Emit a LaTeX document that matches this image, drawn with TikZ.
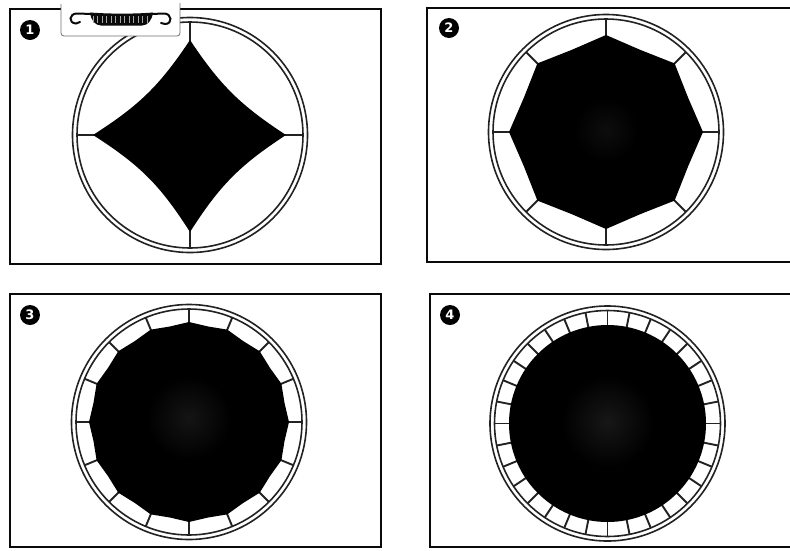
\documentclass[tikz,border=0pt]{standalone}
\usepackage{fontspec}
\setmainfont{DejaVu Sans}
\usetikzlibrary{calc}
\definecolor{ink}{HTML}{0A0A0A}
\definecolor{ringc}{HTML}{222222}
\definecolor{line}{HTML}{6F6F6F}
\tikzset{
  frame/.style={draw=ink, line width=2.3pt},
  ring/.style={draw=ringc, line width=1.6pt},
  spoke/.style={draw=ringc, line width=1.9pt},
  blob/.style={fill=black},
  badge/.style={
    circle, fill=black, text=white, minimum size=20pt, inner sep=0pt,
    font=\fontsize{13}{13}\selectfont\bfseries
  },
  tag/.style={draw=line, line width=0.8pt, rounded corners=3pt}
}
\begin{document}
\begin{tikzpicture}[x=1pt,y=-1pt]
        \useasboundingbox (0,0) rectangle (790,550);
        \coordinate (c1) at (190,135);
        \coordinate (c2) at (606,132);
        \coordinate (c3) at (189,422);
        \coordinate (c4) at (607.5,423.5);
        \draw[frame] (10,9) rectangle (381,264);
        \draw[frame] (790,8) -- (427,8) -- (427,262) -- (790,262);
        \draw[frame] (10,294) rectangle (381,547);
        \draw[frame] (790,294) -- (430,294) -- (430,547) -- (790,547);
        \foreach \c in {c1,c2,c3,c4} {
          \draw[ring] (\c) circle (117.5);
          \draw[ring] (\c) circle (113);
        }
        \foreach \a in {0,90,180,270}
          \draw[spoke] ($(c1)+(\a:113)$) -- ($(c1)+(\a:90)$);
        \foreach \a in {0,45,...,315}
          \draw[spoke] ($(c2)+(\a:113)$) -- ($(c2)+(\a:90)$);
        \foreach \a in {0,22.5,...,337.5}
          \draw[spoke] ($(c3)+(\a:113)$) -- ($(c3)+(\a:90)$);
        \foreach \a in {0,11.25,...,348.75}
          \draw[spoke] ($(c4)+(\a:113)$) -- ($(c4)+(\a:90)$);
        \fill[blob,shift={(c1)}] (0,-95) .. controls (30,-50) and (50,-30) .. (96,0)
          .. controls (50,30) and (30,50) .. (0,97)
          .. controls (-30,50) and (-50,30) .. (-97,0)
          .. controls (-50,-30) and (-30,-50) .. (0,-95) -- cycle;
        \fill[blob,shift={(c2)}] plot[samples at={0,22.5,...,337.5}] (\x:{93+4*cos(8*\x)}) -- cycle;
        \fill[blob,shift={(c3)}] plot[samples at={0,11.25,...,348.75}] (\x:{98.7+1.3*cos(16*\x)}) -- cycle;
        \fill[blob] (c4) circle (98.5);
        \shade[inner color=black!95, outer color=black] ($(c2)+(0,-2)$) circle (32);
        \shade[inner color=black!92, outer color=black] ($(c3)+(0,-4)$) circle (42);
        \shade[inner color=black!91, outer color=black] ($(c4)+(0,-2)$) circle (46);
        \fill[white] (61,2) rectangle (180,36);
        \draw[tag] (61,4) -- (61,36) -- (180,36) -- (180,3);
        \fill[ink] (90,12.5) .. controls (110,14) and (135,14) .. (153,12.5)
          .. controls (152,20) and (148,25.5) .. (142,25.5) -- (101,25.5)
          .. controls (95,25.5) and (91,20) .. (90,12.5) -- cycle;
        \foreach \x in {93,97.5,...,151}
          \draw[white!65!black, line width=0.3pt] (\x,16) -- (\x,23);
        \draw[ink, line width=2pt, line cap=round] (92,14) -- (77,13.5)
          .. controls (69,13.5) and (68,23) .. (76,23.5) -- (80,22);
        \draw[ink, line width=2pt, line cap=round] (151,14) -- (164,13.5)
          .. controls (172,13.5) and (173,24) .. (165,24) -- (161,23);
        \node[badge] (n1) at (30,30) {1};
        \node[badge] (n2) at (449,28) {2};
        \node[badge] (n3) at (30,315) {3};
        \node[badge] (n4) at (450,315) {4};
      \end{tikzpicture}
\end{document}
